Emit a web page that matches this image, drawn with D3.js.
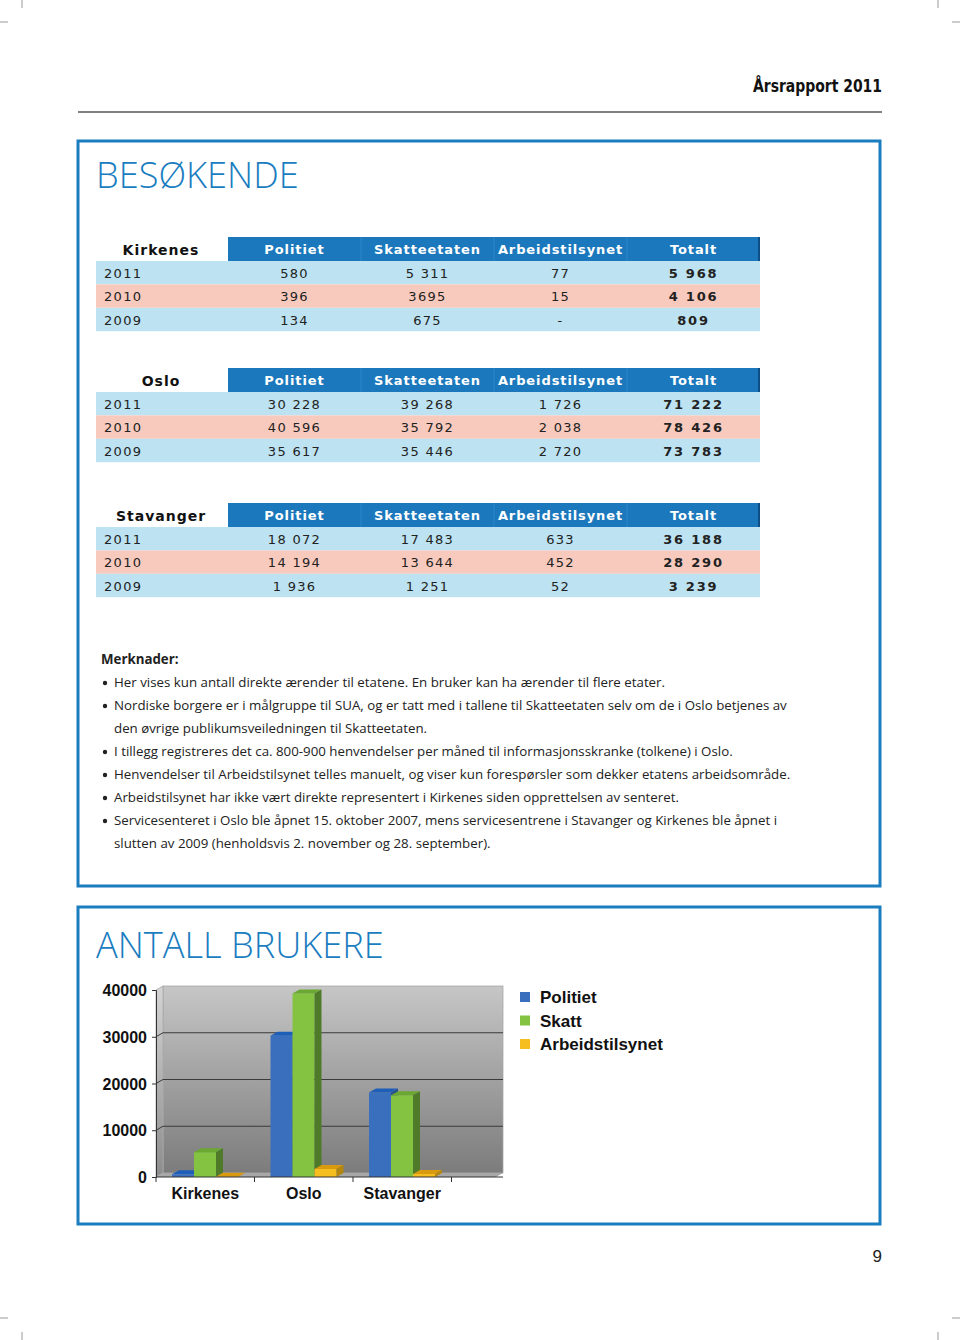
<!DOCTYPE html>
<html>
<head>
<meta charset="utf-8">
<script src="https://cdnjs.cloudflare.com/ajax/libs/d3/7.8.5/d3.min.js"></script>
<style>
  html, body { margin: 0; padding: 0; background: #fff; }
  svg { display: block; }
  .tbl { font-family: "DejaVu Sans", sans-serif; font-size: 13px; letter-spacing: 1.3px; }
  .note { font-family: "Open Sans", sans-serif; font-size: 13.3px; fill: #222; }
  .chart-txt { font-family: "Liberation Sans", Arial, sans-serif; font-weight: bold; fill: #111; }
</style>
</head>
<body>
<script>
// ---- table data (as printed) ----
var years = ['2011', '2010', '2009'];
var agencies = ['Politiet', 'Skatteetaten', 'Arbeidstilsynet', 'Totalt'];
var kirkenesRows = [['580', '5 311', '77', '5 968'], ['396', '3695', '15', '4 106'], ['134', '675', '-', '809']];
var osloRows = [['30 228', '39 268', '1 726', '71 222'], ['40 596', '35 792', '2 038', '78 426'], ['35 617', '35 446', '2 720', '73 783']];
var stavangerRows = [['18 072', '17 483', '633', '36 188'], ['14 194', '13 644', '452', '28 290'], ['1 936', '1 251', '52', '3 239']];

var notes = [
  'Her vises kun antall direkte ærender til etatene. En bruker kan ha ærender til flere etater.',
  'Nordiske borgere er i målgruppe til SUA, og er tatt med i tallene til Skatteetaten selv om de i Oslo betjenes av',
  '|den øvrige publikumsveiledningen til Skatteetaten.',
  'I tillegg registreres det ca. 800-900 henvendelser per måned til informasjonsskranke (tolkene) i Oslo.',
  'Henvendelser til Arbeidstilsynet telles manuelt, og viser kun forespørsler som dekker etatens arbeidsområde.',
  'Arbeidstilsynet har ikke vært direkte representert i Kirkenes siden opprettelsen av senteret.',
  'Servicesenteret i Oslo ble åpnet 15. oktober 2007, mens servicesentrene i Stavanger og Kirkenes ble åpnet i',
  '|slutten av 2009 (henholdsvis 2. november og 28. september).'
];

// ---- chart data (2011) ----
var cities = ['Kirkenes', 'Oslo', 'Stavanger'];
var series = ['Politiet', 'Skatt', 'Arbeidstilsynet'];
var politiet2011 = [580, 30228, 18072];
var skatt2011 = [5311, 39268, 17483];
var arbeid2011 = [77, 1726, 633];
var yTicks = [0, 10000, 20000, 30000, 40000];

var colors = {Politiet: '#3a6fbe', Skatt: '#84c341', Arbeidstilsynet: '#f6be1e'};
var tops = {Politiet: '#1d5fb8', Skatt: '#6aa832', Arbeidstilsynet: '#d99a10'};
var sides = {Politiet: '#25508f', Skatt: '#4f7a2a', Arbeidstilsynet: '#b3860f'};

var blue = '#1a7dc0';

var svg = d3.select('body').append('svg').attr('width', 960).attr('height', 1340);

// crop marks
var marks = [[22, 0, 22, 8], [0, 22, 8, 22], [938, 0, 938, 8], [952, 22, 960, 22],
             [22, 1332, 22, 1340], [0, 1318, 8, 1318], [938, 1332, 938, 1340], [952, 1318, 960, 1318]];
svg.selectAll('line.crop').data(marks).enter().append('line')
  .attr('class', 'crop')
  .attr('x1', function(d) { return d[0]; }).attr('y1', function(d) { return d[1]; })
  .attr('x2', function(d) { return d[2]; }).attr('y2', function(d) { return d[3]; })
  .attr('stroke', '#999').attr('stroke-width', 1);

// page header
svg.append('text').attr('x', 882).attr('y', 92).attr('text-anchor', 'end')
  .attr('textLength', 129).attr('lengthAdjust', 'spacingAndGlyphs')
  .style('font-family', '"DejaVu Sans Condensed", "Liberation Sans Narrow", sans-serif')
  .style('font-weight', 'bold').style('font-size', '18px').attr('fill', '#111')
  .text('Årsrapport 2011');
svg.append('line').attr('x1', 78).attr('x2', 882).attr('y1', 112).attr('y2', 112)
  .attr('stroke', '#555').attr('stroke-width', 1.5);

// boxes
svg.append('rect').attr('x', 78).attr('y', 141).attr('width', 802).attr('height', 745)
  .attr('fill', 'none').attr('stroke', blue).attr('stroke-width', 3);
svg.append('rect').attr('x', 78).attr('y', 907).attr('width', 802).attr('height', 317)
  .attr('fill', 'none').attr('stroke', blue).attr('stroke-width', 3);

function title(txt, y) {
  svg.append('text').attr('x', 96).attr('y', y)
    .style('font-family', '"Open Sans", sans-serif').style('font-weight', 300)
    .style('font-size', '36.2px').attr('fill', blue).text(txt);
}
title('BESØKENDE', 188);
title('ANTALL BRUKERE', 958);

// ---- tables ----
var col = d3.scaleBand().domain(agencies).range([228, 760]);
var rowH = 23.4;

function drawTable(name, rows, top) {
  var g = svg.append('g').attr('class', 'tbl');
  var row = d3.scaleBand().domain(years).range([top + 24, top + 24 + rowH * 3]);

  g.append('rect').attr('x', 228).attr('y', top).attr('width', 532).attr('height', 24).attr('fill', '#1b78bc');
  g.append('rect').attr('x', 758).attr('y', top).attr('width', 2).attr('height', 24).attr('fill', '#0d4f86');
  g.selectAll('line.sep').data(agencies.slice(1)).enter().append('line')
    .attr('x1', function(d) { return col(d); }).attr('x2', function(d) { return col(d); })
    .attr('y1', top).attr('y2', top + 24).attr('stroke', '#2a86c8').attr('stroke-width', 1);
  g.selectAll('text.hd').data(agencies).enter().append('text')
    .attr('x', function(d) { return col(d) + col.bandwidth() / 2; })
    .attr('y', top + 17).attr('text-anchor', 'middle')
    .style('letter-spacing', '0.9px')
    .attr('fill', '#fff').style('font-weight', 'bold').text(function(d) { return d; });
  g.append('text').attr('x', 161).attr('y', top + 18).attr('text-anchor', 'middle')
    .style('font-weight', 'bold').style('font-size', '14px').style('letter-spacing', '1px')
    .attr('fill', '#111').text(name);

  g.selectAll('rect.row').data(years).enter().append('rect')
    .attr('x', 96).attr('width', 664)
    .attr('y', function(d) { return row(d); }).attr('height', row.bandwidth())
    .attr('fill', function(d, i) { return i === 1 ? '#f8cabd' : '#bde2f1'; });
  g.selectAll('text.yr').data(years).enter().append('text')
    .attr('x', 104).attr('y', function(d) { return row(d) + 17; })
    .attr('fill', '#222').text(function(d) { return d; });

  rows.forEach(function(r, i) {
    g.selectAll(null).data(r).enter().append('text')
      .attr('x', function(d, j) { return col(agencies[j]) + col.bandwidth() / 2; })
      .attr('y', row(years[i]) + 17).attr('text-anchor', 'middle')
      .attr('fill', '#222')
      .style('font-weight', function(d, j) { return j === 3 ? 'bold' : 'normal'; })
      .style('letter-spacing', function(d, j) { return j === 3 ? '1.8px' : null; })
      .text(function(d) { return d; });
  });
}
drawTable('Kirkenes', kirkenesRows, 237);
drawTable('Oslo', osloRows, 368);
drawTable('Stavanger', stavangerRows, 503);

// ---- notes ----
svg.append('text').attr('class', 'note').attr('x', 101).attr('y', 664)
  .style('font-weight', 'bold').text('Merknader:');
notes.forEach(function(t, i) {
  var cont = t.charAt(0) === '|';
  var y = 687 + i * 23;
  if(!cont) {
    svg.append('circle').attr('cx', 105).attr('cy', y - 4).attr('r', 2.2).attr('fill', '#222');
  }
  svg.append('text').attr('class', 'note').attr('x', 114).attr('y', y).text(cont ? t.slice(1) : t);
});

// ---- 3D bar chart ----
var y0 = 1177, dx = 7, dy = 4;
var x = d3.scaleBand().domain(cities).range([156, 451.5]);
var xs = d3.scaleBand().domain(series).range([16, 82]);
var y = d3.scaleLinear().domain([0, 40000]).range([y0, 990]);
var wallRight = 503;

var defs = svg.append('defs');
var grad = defs.append('linearGradient').attr('id', 'wall').attr('x1', 0).attr('x2', 0).attr('y1', 0).attr('y2', 1);
grad.append('stop').attr('offset', '0%').attr('stop-color', '#c6c6c6');
grad.append('stop').attr('offset', '100%').attr('stop-color', '#7c7c7c');
var grad2 = defs.append('linearGradient').attr('id', 'lwall').attr('x1', 0).attr('x2', 0).attr('y1', 0).attr('y2', 1);
grad2.append('stop').attr('offset', '0%').attr('stop-color', '#d4d4d4');
grad2.append('stop').attr('offset', '100%').attr('stop-color', '#8c8c8c');

var chart = svg.append('g');
// back wall
chart.append('rect').attr('x', 156 + dx).attr('y', y(40000) - dy)
  .attr('width', wallRight - 156 - dx).attr('height', y(0) - y(40000))
  .attr('fill', 'url(#wall)').attr('stroke', '#a8a8a8').attr('stroke-width', 0.8);
// left wall
chart.append('polygon')
  .attr('points', [[156, y(40000)], [156 + dx, y(40000) - dy], [156 + dx, y0 - dy], [156, y0]].join(' '))
  .attr('fill', 'url(#lwall)').attr('stroke', '#a8a8a8').attr('stroke-width', 0.8);
// floor
chart.append('polygon')
  .attr('points', [[156, y0], [156 + dx, y0 - dy], [wallRight, y0 - dy], [wallRight - dx, y0]].join(' '))
  .attr('fill', '#a8a8a8');

// gridlines
chart.selectAll('polyline.grid').data(yTicks.slice(1, 4)).enter().append('polyline')
  .attr('points', function(d) { return [[156, y(d)], [156 + dx, y(d) - dy], [wallRight, y(d) - dy]].join(' '); })
  .attr('fill', 'none').attr('stroke', '#3a3a3a').attr('stroke-width', 1);

// bars
var barData = [];
cities.forEach(function(c, i) {
  [politiet2011, skatt2011, arbeid2011].forEach(function(arr, j) {
    barData.push({city: c, s: series[j], v: arr[i]});
  });
});
var bars = chart.selectAll('g.bar').data(barData).enter().append('g').attr('class', 'bar');
function bx(d) { return x(d.city) + xs(d.s); }
var bw = xs.bandwidth();
bars.append('rect')
  .attr('x', bx).attr('width', bw)
  .attr('y', function(d) { return y(d.v); })
  .attr('height', function(d) { return y0 - y(d.v); })
  .attr('fill', function(d) { return colors[d.s]; });
bars.append('polygon')
  .attr('points', function(d) {
    var x1 = bx(d), yy = y(d.v);
    return [[x1, yy], [x1 + dx, yy - dy], [x1 + bw + dx, yy - dy], [x1 + bw, yy]].join(' ');
  })
  .attr('fill', function(d) { return tops[d.s]; });
bars.append('polygon')
  .attr('points', function(d) {
    var x1 = bx(d) + bw, yy = y(d.v);
    return [[x1, yy], [x1 + dx, yy - dy], [x1 + dx, y0 - dy], [x1, y0]].join(' ');
  })
  .attr('fill', function(d) { return sides[d.s]; });

// axes
var yAxis = d3.axisLeft(y).tickValues(yTicks).tickSize(4).tickFormat(d3.format('d'));
var ya = chart.append('g').attr('transform', 'translate(156,0)').call(yAxis);
ya.select('.domain').attr('stroke', '#333');
ya.selectAll('.tick line').attr('stroke', '#333');
ya.selectAll('.tick text').attr('class', 'chart-txt').attr('x', -9).attr('dy', '0.35em')
  .style('font-size', '16px').attr('fill', '#111');

var xa = chart.append('g').attr('transform', 'translate(0,' + y0 + ')');
xa.append('line').attr('x1', 156).attr('x2', wallRight).attr('stroke', '#333');
var tickX = cities.map(function(c) { return x(c); }).concat([x.range()[1]]);
xa.selectAll('line.tk').data(tickX).enter().append('line')
  .attr('x1', function(d) { return d; }).attr('x2', function(d) { return d; })
  .attr('y1', 0).attr('y2', 5).attr('stroke', '#333');
xa.selectAll('text').data(cities).enter().append('text')
  .attr('class', 'chart-txt').attr('text-anchor', 'middle')
  .attr('x', function(d) { return x(d) + x.bandwidth() / 2; }).attr('y', 22)
  .style('font-size', '16px').text(function(d) { return d; });

// legend
var lg = svg.append('g').attr('transform', 'translate(520,992)');
var lgi = lg.selectAll('g').data(series).enter().append('g')
  .attr('transform', function(d, i) { return 'translate(0,' + (i * 23.5) + ')'; });
lgi.append('rect').attr('width', 10).attr('height', 10).attr('fill', function(d) { return colors[d]; });
lgi.append('text').attr('class', 'chart-txt').attr('x', 20).attr('y', 11)
  .style('font-size', '17px').text(function(d) { return d; });

// page number
svg.append('text').attr('x', 882).attr('y', 1262).attr('text-anchor', 'end')
  .style('font-family', '"Liberation Sans Narrow", sans-serif').style('font-size', '17px')
  .attr('fill', '#222').text('9');
</script>
</body>
</html>
